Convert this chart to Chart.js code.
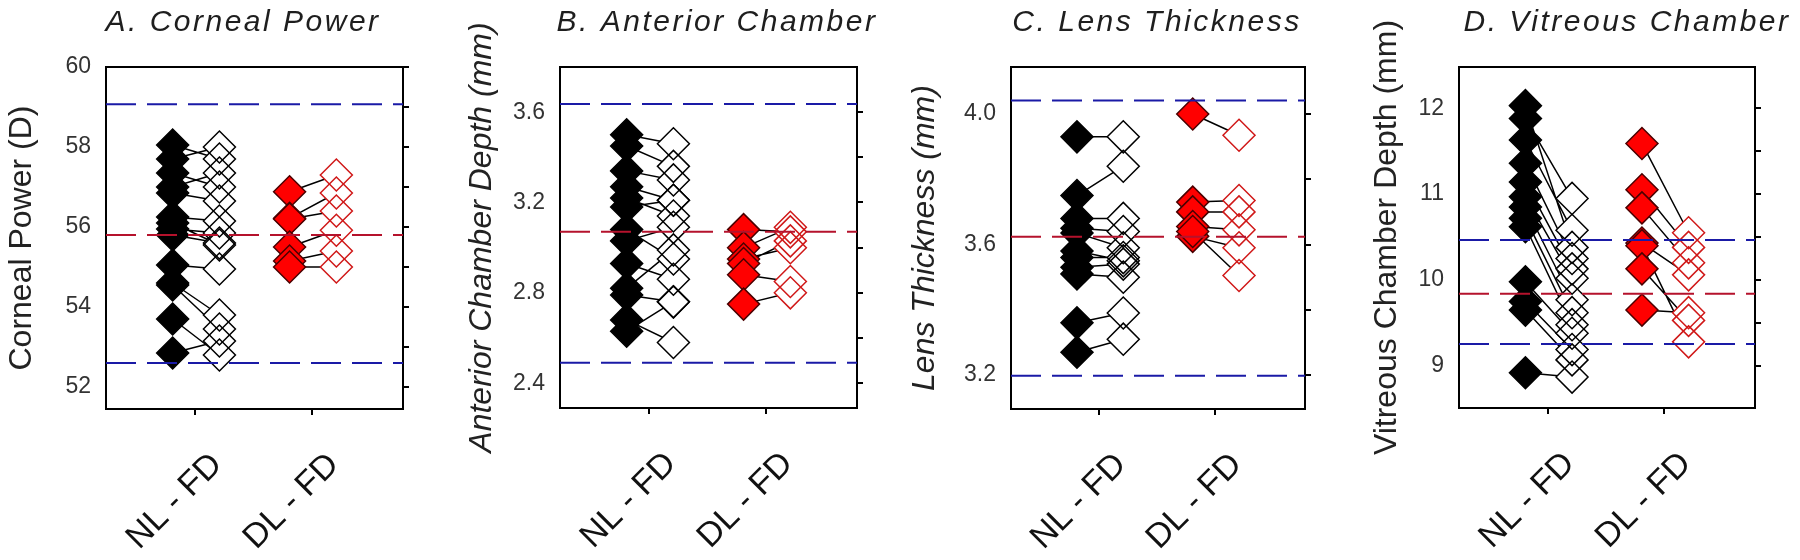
<!DOCTYPE html>
<html>
<head>
<meta charset="utf-8">
<script src="https://cdn.jsdelivr.net/npm/chart.js@4.4.0/dist/chart.umd.min.js"></script>
<style>
body{margin:0;background:#fff;width:1800px;height:560px;overflow:hidden;}
canvas{position:absolute;top:0;}
</style>
</head>
<body>
<canvas id="cA" width="450" height="560" style="left:0px"></canvas>
<canvas id="cB" width="450" height="560" style="left:450px"></canvas>
<canvas id="cC" width="450" height="560" style="left:900px"></canvas>
<canvas id="cD" width="450" height="560" style="left:1350px"></canvas>
<script>
var groups = ['NL - FD', 'DL - FD'];
var xFilled = [0.81, 1.81];   // filled diamonds left of each group tick
var xOpen = [1.21, 2.21];     // open diamonds right of it

// A. corneal power (D)
var cornealNLfilled = [58.05, 57.70, 57.35, 57.00, 56.85, 56.25, 56.10, 55.95, 55.80, 55.05, 54.60, 54.55, 53.70, 52.85];
var cornealNLopen   = [57.70, 58.00, 57.00, 57.35, 56.65, 56.15, 55.55, 55.85, 55.60, 54.95, 53.80, 53.45, 52.80, 53.15];
var cornealDLfilled = [56.88, 56.22, 56.20, 55.50, 55.15, 55.00];
var cornealDLopen   = [57.30, 56.85, 56.40, 55.92, 55.40, 55.00];
var cornealRef = [59.07, 55.80, 52.60];
var cornealTicks = [52, 54, 56, 58, 60];
var cornealMinor = [52, 53, 54, 55, 56, 57, 58, 59, 60];

// B. anterior chamber depth (mm)
var acdNLfilled = [3.50, 3.45, 3.34, 3.27, 3.22, 3.18, 3.08, 3.03, 2.93, 2.82, 2.79, 2.68, 2.63];
var acdNLopen   = [3.46, 3.36, 3.30, 3.21, 3.14, 3.21, 2.95, 3.09, 2.86, 2.99, 2.76, 2.58, 2.76];
var acdDLfilled = [3.08, 3.00, 2.95, 2.93, 2.88, 2.75];
var acdDLopen   = [3.07, 3.09, 3.00, 3.03, 2.85, 2.80];
var acdRef = [3.636, 3.07, 2.49];
var acdTicks = [2.4, 2.8, 3.2, 3.6];
var acdMinor = [2.4, 2.6, 2.8, 3.0, 3.2, 3.4, 3.6];

// C. lens thickness (mm)
var lensNLfilled = [3.93, 3.75, 3.68, 3.65, 3.635, 3.58, 3.56, 3.53, 3.51, 3.36, 3.27];
var lensNLopen   = [3.93, 3.84, 3.68, 3.64, 3.59, 3.55, 3.56, 3.54, 3.50, 3.39, 3.31];
var lensDLfilled = [4.00, 3.73, 3.70, 3.655, 3.625, 3.64];
var lensDLopen   = [3.935, 3.735, 3.70, 3.645, 3.59, 3.505];
var lensRef = [4.041, 3.624, 3.198];
var lensTicks = [3.2, 3.6, 4.0];
var lensMinor = [3.2, 3.4, 3.6, 3.8, 4.0];

// D. vitreous chamber depth (mm)
var vcdNLfilled = [12.03, 11.88, 11.63, 11.36, 11.14, 10.97, 10.85, 10.72, 10.62, 9.98, 9.75, 9.65, 8.92];
var vcdNLopen   = [10.38, 10.95, 10.58, 10.25, 10.13, 10.02, 9.77, 9.62, 9.48, 9.38, 9.19, 9.07, 8.87];
var vcdDLfilled = [11.59, 11.05, 10.84, 10.43, 10.40, 10.13, 9.65];
var vcdDLopen   = [10.55, 10.38, 10.20, 10.06, 9.28, 9.53, 9.62];
var vcdRef = [10.465, 9.84, 9.256];
var vcdTicks = [9, 10, 11, 12];
var vcdMinor = [9, 9.5, 10, 10.5, 11, 11.5, 12];

var FONT = "'Liberation Sans', Arial, sans-serif";
var xMin = 0.24, xMax = 2.78;
var R = 16;  // diamond size

var panelTitle = {
  id: 'panelTitle',
  afterDraw: function(chart) {
    var o = chart.options.plugins.panelTitle;
    var ctx = chart.ctx;
    ctx.save();
    ctx.font = 'italic 30px ' + FONT;
    ctx.letterSpacing = '2.5px';
    ctx.fillStyle = '#1e1e1e';
    ctx.textAlign = 'center';
    ctx.textBaseline = 'alphabetic';
    ctx.fillText(o.text, o.x, 31);
    ctx.restore();
  }
};

function pts(x, arr) {
  return arr.map(function(v) { return {x: x, y: v}; });
}

function links(xa, xb, a, b) {
  var out = [];
  for (var i = 0; i < a.length; i++) {
    out.push({x: xa, y: a[i]}, {x: xb, y: b[i]}, {x: xb, y: null});
  }
  return out;
}

function makePanel(id, p) {
  var ds = [];
  var refCol = ['#1a1aa6', '#b5122c', '#1a1aa6'];
  p.ref.forEach(function(v, i) {
    ds.push({data: [{x: xMin, y: v}, {x: xMax, y: v}], showLine: true, borderColor: refCol[i],
      borderWidth: 2, borderDash: [30, 11], pointRadius: 0, order: -1});
  });
  [[p.nlF, p.nlO, '#000', '#000', '#000'], [p.dlF, p.dlO, '#ff0000', '#4a0000', '#d01818']].forEach(function(g, gi) {
    ds.push({data: links(xFilled[gi], xOpen[gi], g[0], g[1]), showLine: true, spanGaps: false,
      borderColor: '#000', borderWidth: 1.5, pointRadius: 0, order: 4});
    ds.push({data: pts(xOpen[gi], g[1]), pointStyle: 'rectRot', pointRadius: R,
      backgroundColor: '#fff', borderWidth: 0, order: 3});
    ds.push({data: pts(xOpen[gi], g[1]), pointStyle: 'rectRot', pointRadius: R,
      backgroundColor: 'rgba(0,0,0,0)', borderColor: g[4], borderWidth: 1.5, order: 2});
    ds.push({data: pts(xFilled[gi], g[0]), pointStyle: 'rectRot', pointRadius: R,
      backgroundColor: g[2], borderColor: g[3], borderWidth: 1.5, order: 1});
  });

  return new Chart(document.getElementById(id), {
    type: 'scatter',
    data: {datasets: ds},
    plugins: [panelTitle],
    options: {
      responsive: false,
      animation: false,
      events: [],
      layout: {padding: {top: 67, left: 0, right: 0, bottom: 0}},
      plugins: {
        legend: {display: false},
        tooltip: {enabled: false},
        panelTitle: {text: p.title, x: p.titleX}
      },
      scales: {
        x: {
          type: 'linear', position: 'bottom', min: xMin, max: xMax,
          afterBuildTicks: function(s) { s.ticks = [{value: 1}, {value: 2}]; },
          afterFit: function(s) { s.height = p.bottomH; },
          ticks: {
            callback: function(v) { return groups[Math.round(v) - 1]; },
            minRotation: 45, maxRotation: 45, autoSkip: false, padding: 30, labelOffset: 22,
            color: '#111', font: {family: FONT, size: 34}
          },
          grid: {display: true, drawOnChartArea: false, drawTicks: true, tickLength: 6, color: '#000', lineWidth: 2},
          border: {display: true, color: '#000', width: 2}
        },
        xTop: {
          type: 'linear', position: 'top', min: xMin, max: xMax,
          afterBuildTicks: function(s) { s.ticks = []; },
          afterFit: function(s) { s.height = 0; },
          ticks: {display: false},
          grid: {display: false},
          border: {display: true, color: '#000', width: 2}
        },
        y: {
          type: 'linear', position: 'left', min: p.min, max: p.max,
          afterBuildTicks: function(s) { s.ticks = p.ticks.map(function(v) { return {value: v}; }); },
          afterFit: function(s) { s.width = p.leftW; },
          ticks: {
            callback: function(v) { return v.toFixed(p.dec); },
            padding: 15, color: '#333', font: {family: FONT, size: 23}
          },
          grid: {display: false, drawTicks: false},
          border: {display: true, color: '#000', width: 2},
          title: {
            display: true, text: p.yTitle, color: '#222',
            font: {family: FONT, size: 32, style: p.yItalic ? 'italic' : 'normal'},
            padding: {top: p.yTitlePad, bottom: 0}
          }
        },
        yR: {
          type: 'linear', position: 'right', min: p.min, max: p.max,
          afterBuildTicks: function(s) { s.ticks = p.minor.map(function(v) { return {value: v}; }); },
          afterFit: function(s) { s.width = p.rightW; },
          ticks: {display: false},
          grid: {display: true, drawOnChartArea: false, drawTicks: true, tickLength: 6, color: '#000', lineWidth: 2},
          border: {display: true, color: '#000', width: 2}
        }
      }
    }
  });
}

makePanel('cA', {title: 'A. Corneal Power', titleX: 243, yTitle: 'Corneal Power (D)', yItalic: false, yTitlePad: 3,
  min: 51.45, max: 60, ticks: cornealTicks, minor: cornealMinor, dec: 0, leftW: 106, rightW: 47, bottomH: 151,
  ref: cornealRef, nlF: cornealNLfilled, nlO: cornealNLopen, dlF: cornealDLfilled, dlO: cornealDLopen});

makePanel('cB', {title: 'B. Anterior Chamber', titleX: 267, yTitle: 'Anterior Chamber Depth (mm)', yItalic: true, yTitlePad: 13,
  min: 2.29, max: 3.8, ticks: acdTicks, minor: acdMinor, dec: 1, leftW: 110, rightW: 43, bottomH: 152,
  ref: acdRef, nlF: acdNLfilled, nlO: acdNLopen, dlF: acdDLfilled, dlO: acdDLopen});

makePanel('cC', {title: 'C. Lens Thickness', titleX: 257, yTitle: 'Lens Thickness (mm)', yItalic: true, yTitlePad: 6,
  min: 3.096, max: 4.144, ticks: lensTicks, minor: lensMinor, dec: 1, leftW: 111, rightW: 45, bottomH: 151,
  ref: lensRef, nlF: lensNLfilled, nlO: lensNLopen, dlF: lensDLfilled, dlO: lensDLopen});

makePanel('cD', {title: 'D. Vitreous Chamber', titleX: 277, yTitle: 'Vitreous Chamber Depth (mm)', yItalic: false, yTitlePad: 18,
  min: 8.51, max: 12.48, ticks: vcdTicks, minor: vcdMinor, dec: 0, leftW: 109, rightW: 45, bottomH: 152,
  ref: vcdRef, nlF: vcdNLfilled, nlO: vcdNLopen, dlF: vcdDLfilled, dlO: vcdDLopen});
</script>
</body>
</html>
